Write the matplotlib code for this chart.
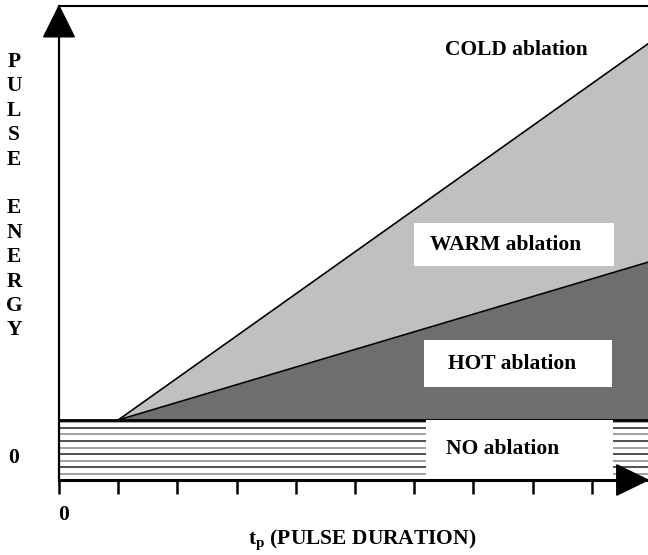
import matplotlib
matplotlib.use("Agg")
import matplotlib.pyplot as plt
from matplotlib.patches import Polygon, Rectangle
import numpy as np

# ---- data (arbitrary schematic units) ----
x_start = 1.0            # onset of ablation on t_p axis
threshold = 1.0          # ablation threshold energy
x_end = 9.95
cold_warm_end = 7.27     # upper boundary (cold / warm) at right edge
warm_hot_end = 3.63      # lower boundary (warm / hot) at right edge
x_ticks = list(range(0, 10))
hatch_levels = [0.1, 0.21, 0.32, 0.43, 0.54, 0.65, 0.76, 0.87, 0.97]
ylabel_letters = ["P", "U", "L", "S", "E", "", "E", "N", "E", "R", "G", "Y"]
region_labels = ["COLD ablation", "WARM ablation", "HOT ablation", "NO ablation"]
label_pos = [(7.73, 7.17), (7.55, 3.92), (7.65, 1.93), (7.5, 0.52)]

W, H = 648, 555
fig = plt.figure(figsize=(W / 100, H / 100), dpi=100)
ax = fig.add_axes([59 / W, (H - 480) / H, (648 - 59) / W, 474 / H])
ax.set_xlim(0, x_end)
ax.set_ylim(0, 7.9)
ax.spines["right"].set_visible(False)
ax.spines["top"].set_linewidth(1.5)
ax.spines["left"].set_linewidth(1.6)
ax.spines["bottom"].set_linewidth(2.2)
ax.set_xticks(x_ticks)
ax.set_xticklabels([])
ax.set_yticks([])
ax.tick_params(axis="x", direction="out", length=10, width=1.8)

font = dict(family="Liberation Serif", weight="bold")
fs = 15.5

# hatched "no ablation" band
cols = ["#a0a0a0", "#505050"]
for i, lv in enumerate(hatch_levels):
    ax.axhline(lv, color=cols[i % 2], lw=1.4, zorder=1)

# regions
xs = np.array([x_start, x_end])
upper = np.array([threshold, cold_warm_end])
lower = np.array([threshold, warm_hot_end])
ax.fill_between(xs, lower, upper, color="#c0c0c0", lw=0, zorder=2)
ax.fill_between(xs, threshold, lower, color="#6e6e6e", lw=0, zorder=2)
ax.plot(xs, upper, color="black", lw=1.2, zorder=3)
ax.plot(xs, lower, color="black", lw=1.2, zorder=3)
ax.axhline(threshold, color="black", lw=2.0, zorder=3)

# label boxes
boxes = [None, (6.0, 3.57, 3.38, 0.72), (6.17, 1.55, 3.17, 0.78), (6.2, 0.07, 3.16, 0.93)]
for b in boxes:
    if b is not None:
        ax.add_patch(Rectangle((b[0], b[1]), b[2], b[3], facecolor="white",
                               edgecolor="none", zorder=4))
for txt, (px, py) in zip(region_labels, label_pos):
    ax.text(px, py, txt, ha="center", va="center", fontsize=fs, zorder=5, **font)

# arrows
ax.add_patch(Polygon([[-0.026, 0.935], [0.026, 0.935], [0.0, 1.0]], closed=True,
                     transform=ax.transAxes, color="black", clip_on=False, zorder=6))
ax.add_patch(Polygon([[0.947, -0.032], [0.947, 0.032], [1.0, 0.0]], closed=True,
                     transform=ax.transAxes, color="black", clip_on=False, zorder=6))

# zeros and axis labels
ax.text(0.007, -0.073, "0", transform=ax.transAxes, ha="center", va="center",
        fontsize=fs, **font)
fig.text(14 / W, 1 - 458 / H, "0", ha="center", va="center", fontsize=fs, **font)
for i, ch in enumerate(ylabel_letters):
    if ch:
        fig.text(14 / W, 1 - (62 + i * 24.4) / H, ch, ha="center", va="center",
                 fontsize=fs, **font)
fig.text(362 / W, 1 - 540 / H, r"t$_\mathregular{p}$ (PULSE DURATION)", ha="center",
         va="center", fontsize=fs, **font)

fig.savefig("out.png", dpi=100)
